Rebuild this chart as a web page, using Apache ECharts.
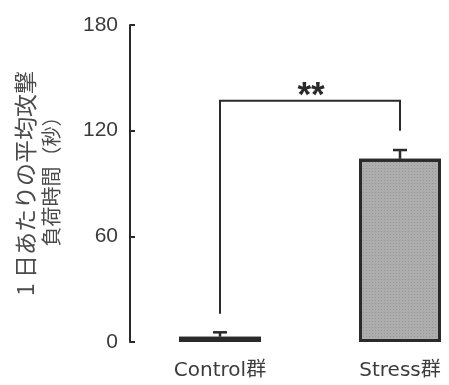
<!DOCTYPE html>
<html>
<head>
<meta charset="utf-8">
<script src="https://cdn.jsdelivr.net/npm/echarts@6/dist/echarts.min.js"></script>
<style>
  html, body { margin: 0; padding: 0; background: #fff; }
  #chart { width: 449px; height: 385px; }
</style>
</head>
<body>
<div id="chart"></div>
<script>
// Groups and their mean daily attack-exposure time (seconds)
const categories = ['Control群', 'Stress群'];
const meanValues = [3, 104];
const errorValues = [2.5, 5];

// Y axis range and ticks
const yMin = 0;
const yMax = 180;
const yStep = 60;

// Significance bracket: height of the bar, leg bottoms per group, marker
const bracketTop = 137;
const bracketLegBottoms = [16, 120];
const bracketMark = '**';

const yTitleLine1 = '1 日あたりの平均攻撃';
const yTitleLine2 = '負荷時間（秒）';

const ink = '#2a2a2a';
const textColor = '#3c3c3c';

const chart = echarts.init(document.getElementById('chart'));

chart.setOption({
  animation: false,
  backgroundColor: '#fff',
  grid: { left: 130, top: 25, width: 360, bottom: 43, outerBoundsMode: 'none', containLabel: false },
  xAxis: {
    type: 'category',
    data: categories,
    boundaryGap: true,
    axisLine: { show: false },
    axisTick: { show: false },
    axisLabel: {
      margin: 19,
      fontSize: 20,
      color: textColor,
      fontFamily: 'DejaVu Sans, Noto Sans CJK JP, sans-serif'
    }
  },
  yAxis: {
    type: 'value',
    min: yMin,
    max: yMax,
    interval: yStep,
    splitLine: { show: false },
    axisLine: { show: true, lineStyle: { color: ink, width: 2 } },
    axisTick: { show: true, inside: true, length: 5, lineStyle: { color: ink, width: 2 } },
    axisLabel: {
      margin: 12,
      fontSize: 21,
      color: textColor,
      fontFamily: 'Liberation Sans, sans-serif'
    },
    name: '{a|' + yTitleLine1 + '}\n{b|' + yTitleLine2 + '}',
    nameLocation: 'middle',
    nameGap: 66,
    nameRotate: 90,
    nameTextStyle: {
      color: '#4a4a4a',
      fontFamily: 'Noto Sans CJK JP, sans-serif',
      rich: {
        a: { fontSize: 23, lineHeight: 26, color: '#4a4a4a', fontFamily: 'Noto Sans CJK JP, sans-serif' },
        b: { fontSize: 20, lineHeight: 26, color: '#4a4a4a', fontFamily: 'Noto Sans CJK JP, sans-serif',
             padding: [0, 0, 0, 14] }
      }
    }
  },
  series: [
    {
      type: 'bar',
      data: meanValues,
      barWidth: 82,
      itemStyle: {
        color: '#adadad',
        borderColor: ink,
        borderWidth: 3,
        decal: {
          symbol: 'rect',
          symbolSize: 1,
          dashArrayX: [1, 2],
          dashArrayY: [1, 2],
          color: 'rgba(90,90,90,0.25)'
        }
      },
      z: 2
    },
    {
      // upward error bars
      type: 'custom',
      data: meanValues.map((v, i) => [i, v, v + errorValues[i]]),
      renderItem: function (params, api) {
        const base = api.coord([api.value(0), api.value(1)]);
        const top = api.coord([api.value(0), api.value(2)]);
        const half = 7;
        return {
          type: 'group',
          children: [
            { type: 'line', shape: { x1: base[0], y1: base[1], x2: top[0], y2: top[1] },
              style: { stroke: ink, lineWidth: 2.5 } },
            { type: 'line', shape: { x1: top[0] - half, y1: top[1], x2: top[0] + half, y2: top[1] },
              style: { stroke: ink, lineWidth: 2.5 } }
          ]
        };
      },
      z: 3
    },
    {
      // significance bracket between the two groups
      type: 'custom',
      data: [[0, 1, bracketTop, bracketLegBottoms[0], bracketLegBottoms[1]]],
      renderItem: function (params, api) {
        const a = api.coord([api.value(0), api.value(3)]);
        const aTop = api.coord([api.value(0), api.value(2)]);
        const bTop = api.coord([api.value(1), api.value(2)]);
        const b = api.coord([api.value(1), api.value(4)]);
        return {
          type: 'group',
          children: [
            { type: 'polyline',
              shape: { points: [a, aTop, bTop, b] },
              style: { stroke: ink, lineWidth: 2, fill: null } },
            { type: 'text',
              x: (aTop[0] + bTop[0]) / 2 + 1, y: aTop[1] - 22,
              style: { text: bracketMark, fill: ink, fontSize: 35, fontWeight: 'bold',
                       fontFamily: 'Liberation Sans, sans-serif',
                       align: 'center', verticalAlign: 'top' } }
          ]
        };
      },
      z: 4
    }
  ]
});
</script>
</body>
</html>
